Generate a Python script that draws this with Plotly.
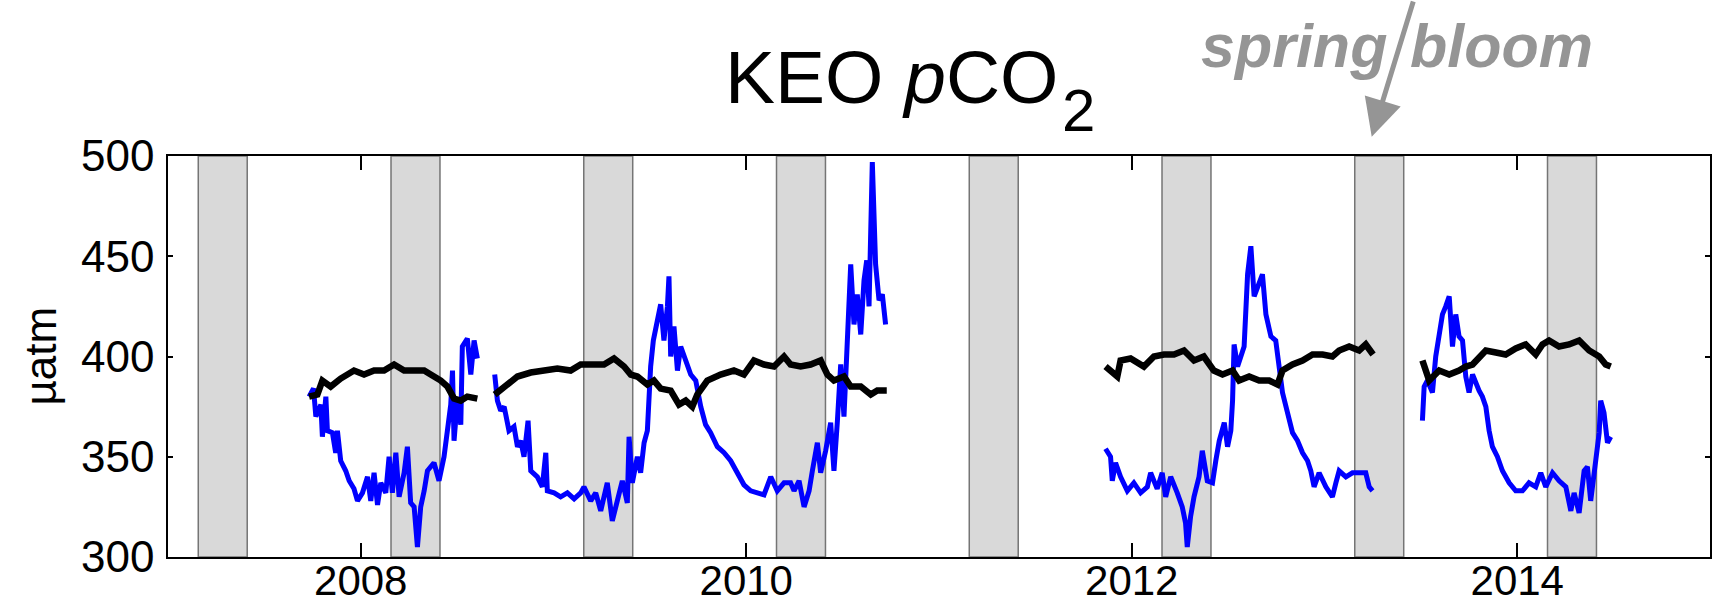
import plotly.graph_objects as go

# ---------------- data (decimal years, µatm) ----------------
# seawater pCO2 (blue), four deployments
t_sw1 = [2007.732, 2007.755, 2007.767, 2007.793, 2007.801, 2007.819, 2007.827, 2007.853, 2007.870, 2007.879,
         2007.896, 2007.922, 2007.940, 2007.965, 2007.983, 2008.009, 2008.035, 2008.052, 2008.069, 2008.087,
         2008.104, 2008.130, 2008.147, 2008.164, 2008.182, 2008.199, 2008.225, 2008.242, 2008.259, 2008.277,
         2008.294, 2008.311, 2008.329, 2008.346, 2008.380, 2008.406, 2008.432, 2008.450, 2008.467, 2008.476,
         2008.484, 2008.501, 2008.519, 2008.527, 2008.553, 2008.571, 2008.588, 2008.605]
sw1 = [380, 384, 370, 376, 360, 380, 363, 362, 352, 363,
       348, 343, 338, 334, 328, 332, 340, 328, 342, 326,
       337, 332, 350, 332, 352, 330, 342, 355, 327, 325,
       305, 325, 333, 343, 347, 338, 350, 362, 376, 393,
       358, 378, 366, 405, 409, 391, 408, 399]

t_sw2 = [2008.695, 2008.709, 2008.726, 2008.744, 2008.769, 2008.795, 2008.813, 2008.830, 2008.847, 2008.868,
         2008.882, 2008.916, 2008.942, 2008.960, 2008.968, 2009.003, 2009.037, 2009.072, 2009.107, 2009.141,
         2009.158, 2009.193, 2009.219, 2009.245, 2009.279, 2009.305, 2009.331, 2009.357, 2009.383, 2009.392,
         2009.409, 2009.435, 2009.452, 2009.470, 2009.487, 2009.504, 2009.518, 2009.539, 2009.556, 2009.573,
         2009.591, 2009.599, 2009.608, 2009.625, 2009.643, 2009.660, 2009.677, 2009.712, 2009.738, 2009.764,
         2009.789, 2009.815, 2009.850, 2009.885, 2009.919, 2009.954, 2009.988, 2010.023, 2010.057, 2010.092,
         2010.127, 2010.161, 2010.196, 2010.230, 2010.248, 2010.274, 2010.300, 2010.326, 2010.343, 2010.369,
         2010.386, 2010.412, 2010.438, 2010.455, 2010.473, 2010.490, 2010.507, 2010.525, 2010.542, 2010.559,
         2010.576, 2010.594, 2010.611, 2010.625, 2010.637, 2010.654, 2010.671, 2010.689, 2010.706, 2010.723]
sw2 = [391, 378, 373, 375, 363, 365, 355, 358, 350, 368,
       343, 340, 335, 352, 333, 332, 330, 332, 329, 332,
       335, 328, 332, 323, 337, 318, 328, 338, 327, 360,
       337, 350, 342, 357, 363, 395, 408, 420, 426, 408,
       425, 440, 400, 415, 393, 405, 400, 391, 388, 375,
       366, 362, 355, 352, 348, 342, 336, 333, 332, 331,
       340, 333, 337, 337, 333, 338, 325, 333, 343, 357,
       342, 353, 367, 343, 368, 396, 370, 413, 446, 416,
       431, 411, 438, 448, 425, 497, 446, 428, 431, 416]

t_sw3 = [2011.864, 2011.890, 2011.899, 2011.916, 2011.942, 2011.977, 2012.011, 2012.046, 2012.081, 2012.098,
         2012.132, 2012.158, 2012.176, 2012.202, 2012.236, 2012.262, 2012.279, 2012.288, 2012.305, 2012.323,
         2012.349, 2012.366, 2012.392, 2012.419, 2012.436, 2012.454, 2012.480, 2012.497, 2012.514, 2012.523,
         2012.531, 2012.549, 2012.566, 2012.583, 2012.601, 2012.618, 2012.635, 2012.652, 2012.678, 2012.696,
         2012.722, 2012.747, 2012.765, 2012.782, 2012.808, 2012.834, 2012.860, 2012.886, 2012.912, 2012.929,
         2012.946, 2012.972, 2013.007, 2013.041, 2013.059, 2013.076, 2013.111, 2013.145, 2013.180, 2013.214,
         2013.232, 2013.249]
sw3 = [354, 350, 338, 347, 340, 333, 337, 332, 335, 342,
       334, 342, 330, 340, 332, 325, 317, 305, 320, 330,
       340, 353, 338, 337, 348, 358, 367, 355, 363, 378,
       406, 395, 400, 405, 441, 455, 430, 435, 441, 421,
       410, 408, 395, 382, 372, 362, 358, 352, 348, 343,
       335, 342, 335, 330, 337, 343, 340, 342, 342, 342,
       335, 333]

t_sw4 = [2013.508, 2013.517, 2013.534, 2013.560, 2013.577, 2013.595, 2013.612, 2013.629, 2013.647, 2013.664,
         2013.681, 2013.698, 2013.716, 2013.733, 2013.750, 2013.768, 2013.785, 2013.802, 2013.819, 2013.837,
         2013.854, 2013.871, 2013.897, 2013.923, 2013.958, 2013.992, 2014.027, 2014.061, 2014.096, 2014.122,
         2014.148, 2014.183, 2014.217, 2014.252, 2014.278, 2014.295, 2014.321, 2014.347, 2014.364, 2014.381,
         2014.407, 2014.425, 2014.433, 2014.450, 2014.468, 2014.485]
sw4 = [368, 385, 388, 382, 400, 411, 421, 425, 430, 405,
       421, 410, 408, 390, 382, 391, 386, 383, 380, 375,
       363, 355, 350, 343, 337, 333, 333, 337, 335, 342,
       335, 342, 338, 335, 323, 332, 322, 343, 345, 328,
       348, 362, 378, 372, 357, 360]

# atmospheric pCO2 (black)
t_air1 = [2007.732, 2007.775, 2007.801, 2007.844, 2007.896, 2007.965, 2008.017, 2008.069, 2008.121, 2008.173,
          2008.225, 2008.277, 2008.329, 2008.363, 2008.415, 2008.450, 2008.484, 2008.519, 2008.553, 2008.605]
air1 = [380, 381, 388, 385, 389, 393, 391, 393, 393, 396,
        393, 393, 393, 391, 388, 385, 379, 378, 380, 379]

t_air2 = [2008.695, 2008.744, 2008.813, 2008.882, 2008.951, 2009.020, 2009.089, 2009.141, 2009.193, 2009.262,
          2009.314, 2009.366, 2009.401, 2009.435, 2009.487, 2009.521, 2009.556, 2009.608, 2009.651, 2009.686,
          2009.720, 2009.746, 2009.798, 2009.867, 2009.936, 2009.988, 2010.040, 2010.092, 2010.144, 2010.196,
          2010.230, 2010.282, 2010.334, 2010.386, 2010.421, 2010.455, 2010.507, 2010.542, 2010.594, 2010.646,
          2010.680, 2010.729]
air2 = [381, 385, 390, 392, 393, 394, 393, 396, 396, 396,
        399, 395, 391, 390, 386, 388, 384, 383, 376, 378,
        375, 381, 388, 391, 393, 391, 398, 396, 395, 400,
        396, 395, 396, 398, 391, 388, 390, 385, 385, 381,
        383, 383]

t_air3 = [2011.864, 2011.925, 2011.942, 2011.994, 2012.063, 2012.115, 2012.167, 2012.219, 2012.271, 2012.323,
          2012.374, 2012.426, 2012.471, 2012.523, 2012.557, 2012.609, 2012.661, 2012.713, 2012.756, 2012.782,
          2012.834, 2012.886, 2012.938, 2012.990, 2013.041, 2013.076, 2013.128, 2013.180, 2013.214, 2013.252]
air3 = [395, 390, 398, 399, 395, 400, 401, 401, 403, 398,
        400, 393, 391, 393, 388, 390, 388, 388, 386, 393,
        396, 398, 401, 401, 400, 403, 405, 403, 406, 401]

t_air4 = [2013.508, 2013.543, 2013.595, 2013.647, 2013.698, 2013.733, 2013.768, 2013.802, 2013.837, 2013.889,
          2013.940, 2013.992, 2014.044, 2014.096, 2014.131, 2014.165, 2014.217, 2014.269, 2014.321, 2014.373,
          2014.425, 2014.459, 2014.485]
air4 = [398, 388, 393, 391, 393, 395, 396, 400, 403, 402,
        401, 404, 406, 401, 406, 408, 405, 406, 408, 403,
        400, 396, 395]

# spring periods (shaded)
band_start = [2007.157, 2008.157, 2009.157, 2010.157, 2011.157, 2012.157, 2013.157, 2014.157]
band_end = [2007.411, 2008.411, 2009.411, 2010.411, 2011.411, 2012.411, 2013.411, 2014.411]

x_ticks = [2008, 2010, 2012, 2014]
x_tick_labels = ["2008", "2010", "2012", "2014"]
y_ticks = [300, 350, 400, 450, 500]

FONT = "Liberation Sans, Arial, Helvetica, sans-serif"

fig = go.Figure()

for t, v in [(t_sw1, sw1), (t_sw2, sw2), (t_sw3, sw3), (t_sw4, sw4)]:
    fig.add_trace(go.Scatter(x=t, y=v, mode="lines",
                             line=dict(color="#0000ff", width=5), showlegend=False))
for t, v in [(t_air1, air1), (t_air2, air2), (t_air3, air3), (t_air4, air4)]:
    fig.add_trace(go.Scatter(x=t, y=v, mode="lines",
                             line=dict(color="#000000", width=6.5), showlegend=False))

for s, e in zip(band_start, band_end):
    fig.add_shape(type="rect", xref="x", yref="paper", x0=s, x1=e, y0=0, y1=1,
                  fillcolor="#d9d9d9", line=dict(color="#757575", width=1.5), layer="below")

fig.update_layout(
    width=1712, height=609,
    margin=dict(l=168, r=2, t=156, b=52),
    plot_bgcolor="white", paper_bgcolor="white",
    font=dict(family=FONT, color="black"),
    showlegend=False,
    xaxis=dict(range=[2007, 2015], tickmode="array", tickvals=x_ticks, ticktext=x_tick_labels,
               ticks="inside", ticklen=14, tickwidth=1.5, tickcolor="black",
               showline=True, linecolor="black", linewidth=1.5, mirror="ticks",
               showgrid=False, zeroline=False, tickfont=dict(size=42, family=FONT, color="black"),
               ticklabelstandoff=-14, automargin=False),
    yaxis=dict(range=[300, 500], tickmode="array", tickvals=y_ticks,
               ticks="inside", ticklen=5, tickwidth=1.5, tickcolor="black",
               showline=True, linecolor="black", linewidth=1.5, mirror="ticks",
               showgrid=False, zeroline=False, tickfont=dict(size=44, family=FONT, color="black"),
               ticklabelstandoff=3, automargin=False),
)

# y-axis label
fig.add_annotation(text="µatm", xref="paper", yref="paper", x=-0.083, y=0.5,
                   xanchor="center", yanchor="middle", textangle=-90, showarrow=False,
                   font=dict(size=44, family=FONT, color="black"))
# title: "KEO pCO" + large subscript "2"
fig.add_annotation(text="KEO <i>p</i>CO", xref="paper", yref="paper", x=0.3599, y=1.196,
                   xanchor="left", yanchor="middle", showarrow=False,
                   font=dict(size=75, family=FONT, color="black"))
fig.add_annotation(text="2", xref="paper", yref="paper", x=0.5785, y=1.1147,
                   xanchor="left", yanchor="middle", showarrow=False,
                   font=dict(size=60, family=FONT, color="black"))
# spring / bloom annotation
fig.add_annotation(text="<b><i>spring</i></b>", xref="paper", yref="paper", x=0.7299, y=1.275,
                   xanchor="center", yanchor="middle", showarrow=False,
                   font=dict(size=61, family=FONT, color="#959595"))
fig.add_annotation(text="<b><i>bloom</i></b>", xref="paper", yref="paper", x=0.8647, y=1.275,
                   xanchor="center", yanchor="middle", showarrow=False,
                   font=dict(size=61, family=FONT, color="#959595"))
fig.add_annotation(text="", xref="x", yref="paper", x=2013.245, y=1.048,
                   showarrow=True, ax=42, ay=-142, axref="pixel", ayref="pixel",
                   arrowhead=2, arrowsize=1.5, arrowwidth=5, arrowcolor="#959595", standoff=0)

fig.write_html("out.html")
